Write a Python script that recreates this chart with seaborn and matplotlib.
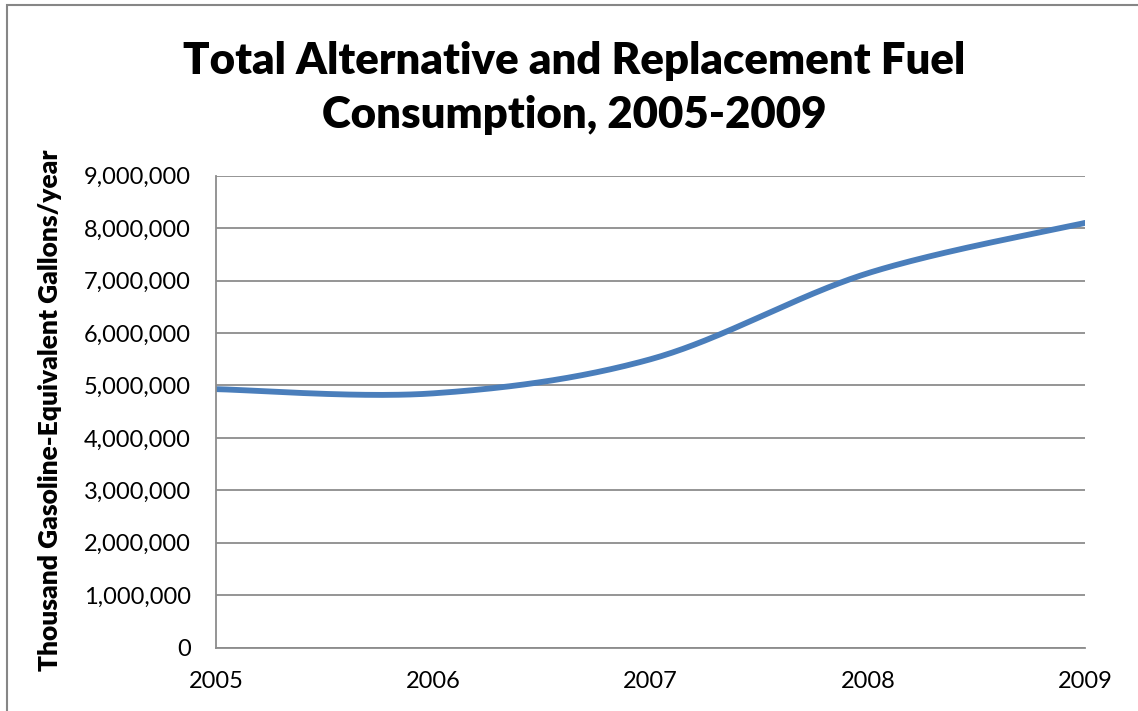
import numpy as np
import pandas as pd
import matplotlib
matplotlib.use("Agg")
import matplotlib.pyplot as plt
from matplotlib.patches import Rectangle
from matplotlib.ticker import FuncFormatter
import seaborn as sns

years = [2005, 2006, 2007, 2008, 2009]
consumption = [4930000, 4850000, 5500000, 7140000, 8100000]
y_ticks = [0, 1000000, 2000000, 3000000, 4000000, 5000000, 6000000, 7000000, 8000000, 9000000]
title = "Total Alternative and Replacement Fuel\nConsumption, 2005-2009"
y_label = "Thousand Gasoline-Equivalent Gallons/year"


def smooth_curve(xs, ys, steps=60):
    """Cubic Bezier smoothing through every point (spreadsheet-style smoothed line)."""
    pts = np.column_stack([xs, ys]).astype(float)
    n = len(pts)
    out = []
    for i in range(n - 1):
        p0 = pts[max(i - 1, 0)]
        p1 = pts[i]
        p2 = pts[i + 1]
        p3 = pts[min(i + 2, n - 1)]
        c1 = p1 + (p2 - p0) / 6.0
        c2 = p2 - (p3 - p1) / 6.0
        t = np.linspace(0, 1, steps, endpoint=(i == n - 2))[:, None]
        seg = ((1 - t) ** 3) * p1 + 3 * ((1 - t) ** 2) * t * c1 + 3 * (1 - t) * t ** 2 * c2 + t ** 3 * p2
        out.append(seg)
    out = np.vstack(out)
    return out[:, 0], out[:, 1]


sns.set_theme(style="white")
plt.rcParams["font.family"] = ["Lato", "DejaVu Sans"]
plt.rcParams["text.color"] = "black"

W, H = 1138, 711
fig = plt.figure(figsize=(W / 100, H / 100), dpi=100)
ax = fig.add_axes([216 / W, 1 - 647.7 / H, 869 / W, 472 / H])

sx, sy = smooth_curve(years, consumption)
curve = pd.DataFrame({"year": sx, "value": sy})
sns.lineplot(data=curve, x="year", y="value", sort=False, ax=ax,
             color="#4A7EBB", linewidth=4.2, solid_capstyle="round")

ax.set_xlim(2005, 2009)
ax.set_ylim(0, 9000000)
ax.set_xticks(years)
ax.set_xticklabels([str(y) for y in years])
ax.set_yticks(y_ticks)
ax.yaxis.set_major_formatter(FuncFormatter(lambda v, p: f"{int(v):,}"))
ax.tick_params(axis="both", length=0, labelsize=17, colors="black")
ax.tick_params(axis="x", pad=17)
ax.tick_params(axis="y", pad=18)

ax.grid(axis="y", color="#8C8C8C", linewidth=1.3)
ax.set_axisbelow(True)
for side in ("top", "right"):
    ax.spines[side].set_visible(False)
for side in ("left", "bottom"):
    ax.spines[side].set_color("#8C8C8C")
    ax.spines[side].set_linewidth(1.3)

ax.set_xlabel("")
ax.set_ylabel("")
fig.text(50 / W, 1 - 410 / H, y_label, rotation=90, ha="center", va="center",
         fontsize=19, fontweight="heavy", color="black")
fig.text(574 / W, 1 - 88 / H, title, ha="center", va="center",
         fontsize=31.5, fontweight="heavy", linespacing=1.4, color="black")

fig.patches.append(Rectangle((7 / W, -0.1), 1.2, 1 - 5 / H + 0.1, transform=fig.transFigure,
                             fill=False, edgecolor="#868686", linewidth=1.5))

fig.savefig("out.png", dpi=100)
